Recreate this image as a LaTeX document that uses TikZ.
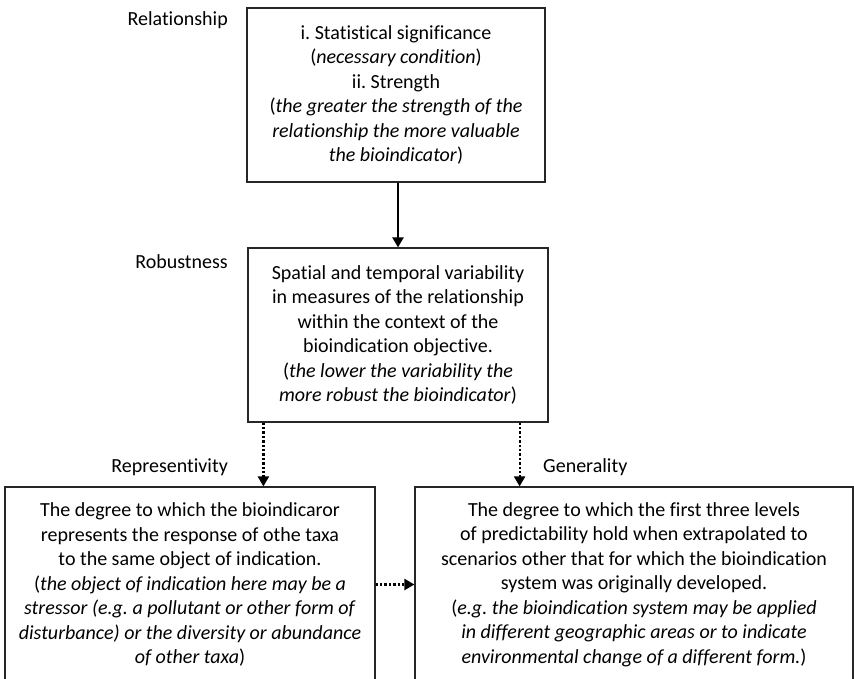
\documentclass[tikz,border=0pt]{standalone}
\usepackage{fontspec}
\setmainfont[Ligatures=NoCommon]{Carlito}
\frenchspacing
\usetikzlibrary{arrows.meta}

\begin{document}
\begin{tikzpicture}[x=1pt, y=-1pt,
    box/.style={draw=black!85, line width=1.2pt, align=center, inner sep=0pt,
        font=\fontsize{20}{24.5}\selectfont},
    lbl/.style={font=\fontsize{20}{24.5}\selectfont, inner sep=0pt},
    link/.style={line width=2.2pt, -{Triangle[width=11pt, length=10pt]}},
    dotlink/.style={link, dash pattern=on 2.4pt off 2pt}]
    % Page area
    \clip (0,0) rectangle (854,679);
    \useasboundingbox (0,0) rectangle (854,679);

    % Boxes
    \node[box, minimum width=298pt, minimum height=174pt] (rel) at (396,95)
        {i. Statistical significance\\
         (\textit{necessary condition})\\
         ii. Strength\\
         (\textit{the greater the strength of the}\\
         \textit{relationship the more valuable}\\
         \textit{the bioindicator})};
    \node[box, minimum width=300pt, minimum height=174pt] (rob) at (398,335)
        {Spatial and temporal variability\\
         in measures of the relationship\\
         within the context of the\\
         bioindication objective.\\
         (\textit{the lower the variability the}\\
         \textit{more robust the bioindicator})};
    \node[box, minimum width=370pt, minimum height=195pt] (rep) at (190,584.5)
        {The degree to which the bioindicaror\\
         represents the response of othe taxa\\
         to the same object of indication.\\
         (\textit{the object of indication here may be a}\\
         \textit{stressor (e.g. a pollutant or other form of}\\
         \textit{disturbance) or the diversity or abundance}\\
         \textit{of other taxa})};
    \node[box, minimum width=438pt, minimum height=195pt] (gen) at (634,584.5)
        {The degree to which the first three levels\\
         of predictability hold when extrapolated to\\
         scenarios other that for which the bioindication\\
         system was originally developed.\\
         (\textit{e.g. the bioindication system may be applied}\\
         \textit{in different geographic areas or to indicate}\\
         \textit{environmental change of a different form.})};

    % Level names
    \node[lbl, anchor=east] (relname) at (228,20) {Relationship};
    \node[lbl, anchor=east] (robname) at (228,262) {Robustness};
    \node[lbl, anchor=east] (repname) at (228,467) {Representivity};
    \node[lbl, anchor=west] (genname) at (543,467) {Generality};

    % Arrows
    \coordinate (robl) at ([xshift=16pt]rob.south west);
    \coordinate (robr) at ([xshift=-29pt]rob.south east);
    \draw[link] (rel.south -| rob.north) -- (rob.north);
    \draw[dotlink] (robl) -- (robl |- rep.north);
    \draw[dotlink] (robr) -- (robr |- gen.north);
    \draw[dotlink] (rep.east) -- (gen.west);
\end{tikzpicture}
\end{document}
